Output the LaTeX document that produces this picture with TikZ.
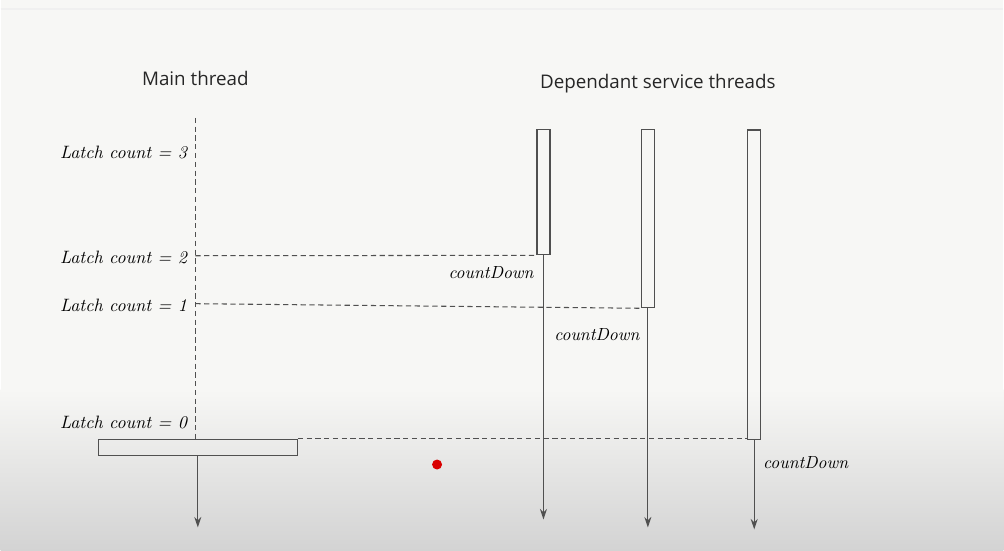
\documentclass[tikz,border=0pt]{standalone}
\usepackage{fontspec}
\setsansfont{Open Sans}
\usetikzlibrary{arrows.meta}

\definecolor{paper}{HTML}{F7F7F5}
\definecolor{shadow}{HTML}{D3D3D3}
\definecolor{ink}{HTML}{505050}

\begin{document}
\begin{tikzpicture}
	[x=0.02cm,y=-0.02cm,
	 title/.style={font=\sffamily\fontsize{10.7}{13}\selectfont,text=black!85},
	 latch/.style={anchor=east,font=\itshape\fontsize{10.2}{12}\selectfont,inner sep=0},
	 call/.style={font=\itshape\fontsize{10}{12}\selectfont,inner sep=0},
	 lane/.style={rectangle,draw=ink,line width=0.7pt,inner sep=0,minimum width=0.26cm},
	 arrow/.style={-{Stealth[length=6pt,width=4pt]},draw=ink,line width=0.7pt},
	 line/.style={dashed,dash pattern=on 3pt off 2pt,draw=ink,line width=0.6pt}]

	% page and the darker band at the bottom
	\fill[paper] (0,0) rectangle (1004,551);
	\shade[top color=paper,bottom color=shadow] (0,390) rectangle (1004,551);
	\draw[black!6,line width=0.6pt] (0,9) -- (1004,9);
	\path [use as bounding box] (0,0) rectangle (1004,551);

	\node[title] (main)    at (195,79) {Main thread};
	\node[title] (service) at (658,84) {Dependant service threads};

	% service thread lanes
	\node[lane,minimum height=2.5cm]  (t1) at (543.5,192.5) {};
	\node[lane,minimum height=3.56cm] (t2) at (648,219) {};
	\node[lane,minimum height=6.2cm]  (t3) at (754.5,285) {};

	% main thread waiting on the latch
	\coordinate (top) at (195,118);
	\coordinate (c2)  at (195,256);
	\coordinate (c1)  at (195,304);
	\node[lane,minimum width=3.98cm,minimum height=0.32cm] (wait) at (197.5,448) {};

	\node[latch] (l3) at (187,153) {Latch count = 3};
	\node[latch] (l2) at (187,258) {Latch count = 2};
	\node[latch] (l1) at (187,306) {Latch count = 1};
	\node[latch] (l0) at (187,423) {Latch count = 0};

	\draw[line] (top) -- (top |- wait.north);
	\draw[line] (c2) -- (t1.south west);
	\draw[line] (c1) -- (t2.south west);
	\draw[line] (wait.north east) -- (wait.north east -| t3.west);

	\coordinate (e0) at (197.5,528);
	\coordinate (e1) at (543.5,520);
	\coordinate (e2) at (648,528);
	\coordinate (e3) at (754.5,530);

	\draw[arrow] (wait.south) -- (e0);
	\draw[arrow] (t1.south) -- (e1);
	\draw[arrow] (t2.south) -- (e2);
	\draw[arrow] (t3.south) -- (e3);

	\node[call] (d1) at (491,273) {countDown};
	\node[call] (d2) at (597,335) {countDown};
	\node[call] (d3) at (806,463) {countDown};

	\fill[red!85!black] (437,465) circle (0.1cm);
\end{tikzpicture}
\end{document}
